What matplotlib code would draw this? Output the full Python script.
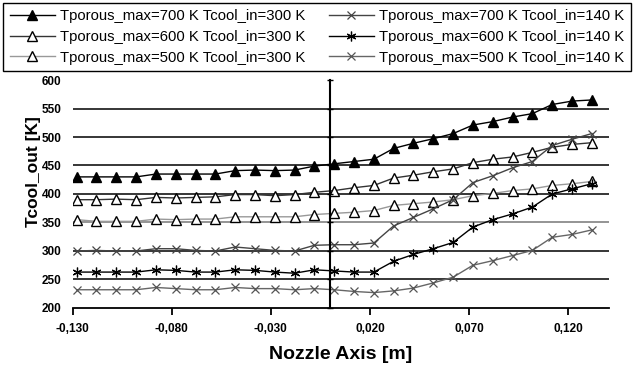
#!/usr/bin/env python3
import numpy as np
import matplotlib
matplotlib.use("Agg")
import matplotlib.pyplot as plt
from matplotlib.ticker import FuncFormatter


# nozzle axis positions [m]
X = [-0.128 + 0.01 * i for i in range(27)]

T700_300 = [430, 430, 430, 430, 435, 435, 435, 435, 441, 442, 441, 442, 449, 453,
            457, 461, 480, 489, 497, 506, 521, 527, 535, 541, 557, 563, 565]
T600_300 = [390, 390, 391, 390, 394, 393, 394, 395, 399, 399, 397, 399, 403, 406,
            411, 415, 428, 433, 439, 444, 455, 461, 465, 473, 482, 487, 490]
T500_300 = [355, 352, 352, 352, 356, 355, 356, 356, 360, 360, 360, 360, 364, 366,
            368, 371, 380, 383, 386, 390, 397, 401, 406, 409, 415, 418, 422]
T700_140 = [300, 301, 300, 300, 304, 304, 301, 300, 307, 304, 301, 300, 310, 311,
            311, 314, 344, 359, 374, 390, 420, 432, 446, 457, 485, 496, 506]
T600_140 = [263, 263, 263, 263, 267, 266, 263, 263, 267, 266, 263, 261, 267, 265,
            263, 263, 282, 294, 304, 315, 342, 355, 365, 377, 400, 409, 418]
T500_140 = [232, 232, 232, 232, 236, 234, 232, 232, 236, 234, 234, 232, 234, 232,
            229, 227, 230, 235, 244, 254, 275, 283, 292, 301, 324, 329, 337]

LABELS = ["Tporous_max=700 K Tcool_in=300 K", "Tporous_max=600 K Tcool_in=300 K",
          "Tporous_max=500 K Tcool_in=300 K", "Tporous_max=700 K Tcool_in=140 K",
          "Tporous_max=600 K Tcool_in=140 K", "Tporous_max=500 K Tcool_in=140 K"]

X_TICKS = [-0.13, -0.08, -0.03, 0.02, 0.07, 0.12]
Y_TICKS = [200, 250, 300, 350, 400, 450, 500, 550, 600]

NARROW = ["Liberation Sans Narrow", "Liberation Sans", "DejaVu Sans"]


def main():
    plt.rcParams["font.family"] = ["Liberation Sans", "DejaVu Sans"]
    fig = plt.figure(figsize=(6.34, 3.67), dpi=100)
    ax = fig.add_axes([0.1147, 0.1608, 0.8459, 0.6212])

    # gridlines
    for y in Y_TICKS[1:-1]:
        ax.axhline(y, color="#777777" if y == 350 else "black", lw=1.1, zorder=1)

    h = []
    h += ax.plot(X, T700_300, color="black", lw=1, marker="^", ms=7,
                 mfc="black", mec="black")
    h += ax.plot(X, T600_300, color="#333333", lw=1, marker="^", ms=7,
                 mfc="white", mec="black", mew=1)
    h += ax.plot(X, T500_300, color="#999999", lw=1, marker="^", ms=7,
                 mfc="white", mec="black", mew=1)
    h += ax.plot(X, T700_140, color="#444444", lw=1, marker="x", ms=6,
                 mec="#444444", mew=0.9)
    h += ax.plot(X, T600_140, color="black", lw=1, marker=(6, 2, 0), ms=7,
                 mec="black", mew=0.9)
    h += ax.plot(X, T500_140, color="#666666", lw=1, marker="x", ms=6,
                 mec="#555555", mew=0.9)

    ax.set_xlim(-0.13, 0.1407)
    ax.set_ylim(200, 600)
    ax.set_xticks(X_TICKS)
    ax.set_yticks(Y_TICKS)
    ax.xaxis.set_major_formatter(FuncFormatter(lambda v, p: f"{v:.3f}".replace(".", ",")))

    for s in ["left", "right", "top"]:
        ax.spines[s].set_visible(False)
    ax.spines["bottom"].set_linewidth(1.3)
    ax.tick_params(axis="x", direction="out", length=5, width=1.3, pad=6)
    ax.tick_params(axis="y", length=0, pad=8)
    for t in ax.get_xticklabels() + ax.get_yticklabels():
        t.set_family(NARROW)
        t.set_fontweight("bold")
        t.set_fontsize(8.5)

    # vertical axis crossing at x = 0
    ax2 = ax.twinx()
    ax2.set_ylim(200, 600)
    ax2.set_yticks(Y_TICKS)
    for s in ["left", "top", "bottom"]:
        ax2.spines[s].set_visible(False)
    ax2.spines["right"].set_position(("data", 0))
    ax2.spines["right"].set_linewidth(1.5)
    ax2.tick_params(axis="y", direction="inout", length=5, width=1, labelright=False)

    ax.set_xlabel("Nozzle Axis [m]", fontsize=14, fontweight="bold",
                  family=NARROW, labelpad=8)
    ax.set_ylabel("Tcool_out [K]", fontsize=12.5, fontweight="bold", family=NARROW)
    ax.yaxis.set_label_coords(-0.06, 0.6)

    leg = fig.legend(h, LABELS, ncol=2,
                     loc="upper center", bbox_to_anchor=(0.5, 0.993), fontsize=10.7,
                     fancybox=False, edgecolor="black", framealpha=1,
                     handlelength=3.0, handletextpad=0.35, columnspacing=1.6,
                     labelspacing=0.45, borderpad=0.45, borderaxespad=0)
    leg.get_frame().set_linewidth(1)

    fig.savefig("out.png", dpi=100)


if __name__ == "__main__":
    main()
